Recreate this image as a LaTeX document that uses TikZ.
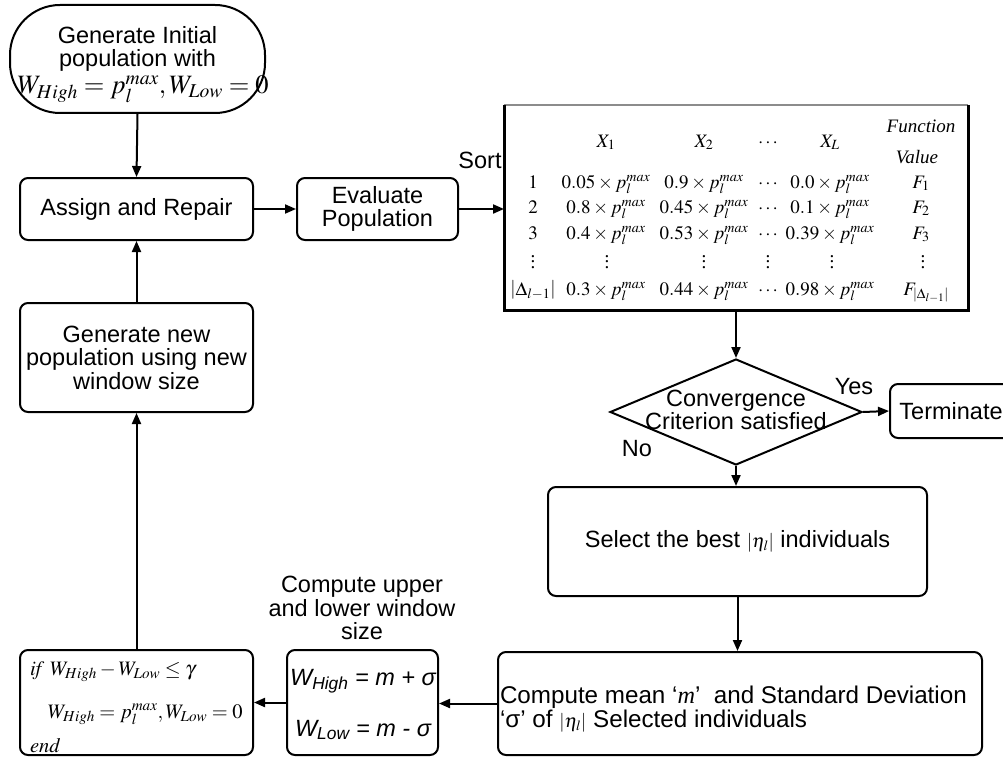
\documentclass[tikz,border=0pt]{standalone}
\usepackage{mathptmx}
\usepackage[no-math]{fontspec}
\setmainfont{Liberation Sans}
\newfontfamily\serifit{Liberation Serif}
\usetikzlibrary{arrows.meta,shapes.geometric}
\newcommand\bigsans{\fontsize{23.5}{23.5}\selectfont}
\newcommand\tabfont{\fontsize{19}{20}\selectfont}
\newcommand\smalleta{{\fontsize{19}{20}\selectfont$|\eta_l|$}}
\newcommand\vdts{\vbox{\baselineskip5.5pt\lineskiplimit0pt\hbox{\serifit .}\hbox{\serifit .}\hbox{\serifit .}}}
\begin{document}
\begin{tikzpicture}[x=1pt,y=-1pt,line width=2pt,
  box/.style={draw,rounded corners=8pt,inner sep=0pt,align=center,font=\bigsans},
  lbl/.style={inner sep=0pt,align=center,font=\bigsans},
  arr/.style={-{Triangle[length=11pt,width=9pt]},line width=2pt},
  cell/.style={anchor=base,inner sep=0pt,font=\tabfont},
  mline/.style={anchor=base west,inner sep=0pt}]
\useasboundingbox (0,0) rectangle (1003,757);

% start terminal
\node[draw,rounded corners=50pt,minimum width=255pt,minimum height=108pt,inner sep=0pt] (start) at (137.5,59) {};
\node[lbl] (starttext) at (137.5,49) {Generate Initial\\population with};
\node[anchor=base,inner sep=0pt,font=\fontsize{26.5}{30}\selectfont] (startmath) at (143,94) {$W_{High}=p_l^{max},W_{Low}=0$};

% left column
\node[box,minimum width=233pt,minimum height=62pt] (assign) at (136.5,209) {Assign and Repair};
\node[box,minimum width=161pt,minimum height=62pt] (eval) at (377.5,209) {Evaluate\\Population};
\node[box,minimum width=233pt,minimum height=109pt] (gen) at (136.5,357.5) {Generate new\\population using new\\window size};

% table
\node[inner sep=0pt,minimum width=462pt,minimum height=203pt] (tbl) at (736,207.5) {};
\draw[line width=1.2pt,black!45] (tbl.north west) -- (tbl.north east);
\draw[line width=3pt] (tbl.north west) -- (tbl.south west) -- (tbl.south east) -- (tbl.north east);
\node[lbl] (sort) at (480,160) {Sort};

\node[cell] (h2) at (606,147) {$X_1$};
\node[cell] (h3) at (704,147) {$X_2$};
\node[cell] (h4) at (768,147) {$\cdots$};
\node[cell] (h5) at (830,147) {$X_L$};
\node[cell] (h6a) at (921,132) {\serifit\itshape Function};
\node[cell] (h6b) at (917,163) {\serifit\itshape Value};

\node[cell] (r1c1) at (533,188) {$1$};
\node[cell] (r1c2) at (606,188) {$0.05\times p_l^{max}$};
\node[cell] (r1c3) at (704,188) {$0.9\times p_l^{max}$};
\node[cell] (r1c4) at (768,188) {$\cdots$};
\node[cell] (r1c5) at (830,188) {$0.0\times p_l^{max}$};
\node[cell] (r1c6) at (921,188) {$F_1$};

\node[cell] (r2c1) at (533,213) {$2$};
\node[cell] (r2c2) at (606,213) {$0.8\times p_l^{max}$};
\node[cell] (r2c3) at (704,213) {$0.45\times p_l^{max}$};
\node[cell] (r2c4) at (768,213) {$\cdots$};
\node[cell] (r2c5) at (830,213) {$0.1\times p_l^{max}$};
\node[cell] (r2c6) at (921,213) {$F_2$};

\node[cell] (r3c1) at (533,239) {$3$};
\node[cell] (r3c2) at (606,239) {$0.4\times p_l^{max}$};
\node[cell] (r3c3) at (704,239) {$0.53\times p_l^{max}$};
\node[cell] (r3c4) at (768,239) {$\cdots$};
\node[cell] (r3c5) at (830,239) {$0.39\times p_l^{max}$};
\node[cell] (r3c6) at (921,239) {$F_3$};

\node[cell] (r4c1) at (533,268) {\vdts};
\node[cell] (r4c2) at (607,268) {\vdts};
\node[cell] (r4c3) at (704,268) {\vdts};
\node[cell] (r4c4) at (768,268) {\vdts};
\node[cell] (r4c5) at (832,268) {\vdts};
\node[cell] (r4c6) at (923,268) {\vdts};

\node[cell] (r5c1) at (533,295) {$\left|\Delta_{l-1}\right|$};
\node[cell] (r5c2) at (606,295) {$0.3\times p_l^{max}$};
\node[cell] (r5c3) at (704,295) {$0.44\times p_l^{max}$};
\node[cell] (r5c4) at (768,295) {$\cdots$};
\node[cell] (r5c5) at (830,295) {$0.98\times p_l^{max}$};
\node[cell] (r5c6) at (926,295) {$F_{|\Delta_{l-1}|}$};

% decision
\node[draw,diamond,minimum width=252pt,minimum height=106pt,inner sep=0pt] (dia) at (736,412) {};
\node[lbl] (diatext) at (736,410) {Convergence\\Criterion satisfied};
\node[box,minimum width=122pt,minimum height=54pt] (term) at (951,411) {Terminate};
\node[lbl] (yes) at (854,387) {Yes};
\node[lbl] (no) at (637,449) {No};

% right column lower
\node[box,minimum width=379pt,minimum height=109pt] (sel) at (737.5,541.5) {Select the best \smalleta{} individuals};
\node[draw,rounded corners=8pt,inner sep=0pt,minimum width=484pt,minimum height=103pt] (comp) at (740,703.5) {};
\node[anchor=west,inner sep=0pt,align=left,font=\fontsize{24.2}{24}\selectfont] (comptext) at (499,709) {Compute mean ‘{\serifit\itshape m}’\ \ and Standard Deviation\\‘σ’ of \smalleta{} Selected individuals};

% window box
\node[draw,rounded corners=8pt,inner sep=0pt,minimum width=151pt,minimum height=105pt] (wbox) at (362.5,702.5) {};
\node[anchor=base,inner sep=0pt,font=\bigsans] (wh) at (363,685) {\itshape W\textsubscript{High} = m + σ};
\node[anchor=base,inner sep=0pt,font=\bigsans] (wl) at (363,736) {\itshape W\textsubscript{Low} = m - σ};
\node[lbl] (wlabel) at (362,608) {Compute upper\\and lower window\\size};

% if box
\node[draw,rounded corners=8pt,inner sep=0pt,minimum width=233pt,minimum height=105pt] (ifbox) at (136.5,702.5) {};
\node[mline,font=\fontsize{20.5}{22}\selectfont] (if1) at (29,675) {$\mathit{if}\ W_{High}-W_{Low}\le\gamma$};
\node[mline,font=\fontsize{20.5}{22}\selectfont] (if2) at (47,718) {$W_{High}=p_l^{max},W_{Low}=0$};
\node[mline,font=\fontsize{20.5}{22}\selectfont] (if3) at (29,752) {$\mathit{end}$};

% connectors
\draw[arr] (start.south) -- (assign.north);
\draw[arr] (assign.east) -- (eval.west);
\draw[arr] (eval.east) -- (eval.east -| tbl.west);
\draw[arr] (tbl.south) -- (dia.north);
\draw[arr] (dia.east) -- (term.west);
\draw[arr] (dia.south) -- (dia.south |- sel.north);
\draw[arr] (sel.south) -- (sel.south |- comp.north);
\draw[arr] (comp.west) -- (comp.west -| wbox.east);
\draw[arr] (wbox.west) -- (wbox.west -| ifbox.east);
\draw[arr] (ifbox.north) -- (gen.south);
\draw[arr] (gen.north) -- (assign.south);
\end{tikzpicture}
\end{document}
